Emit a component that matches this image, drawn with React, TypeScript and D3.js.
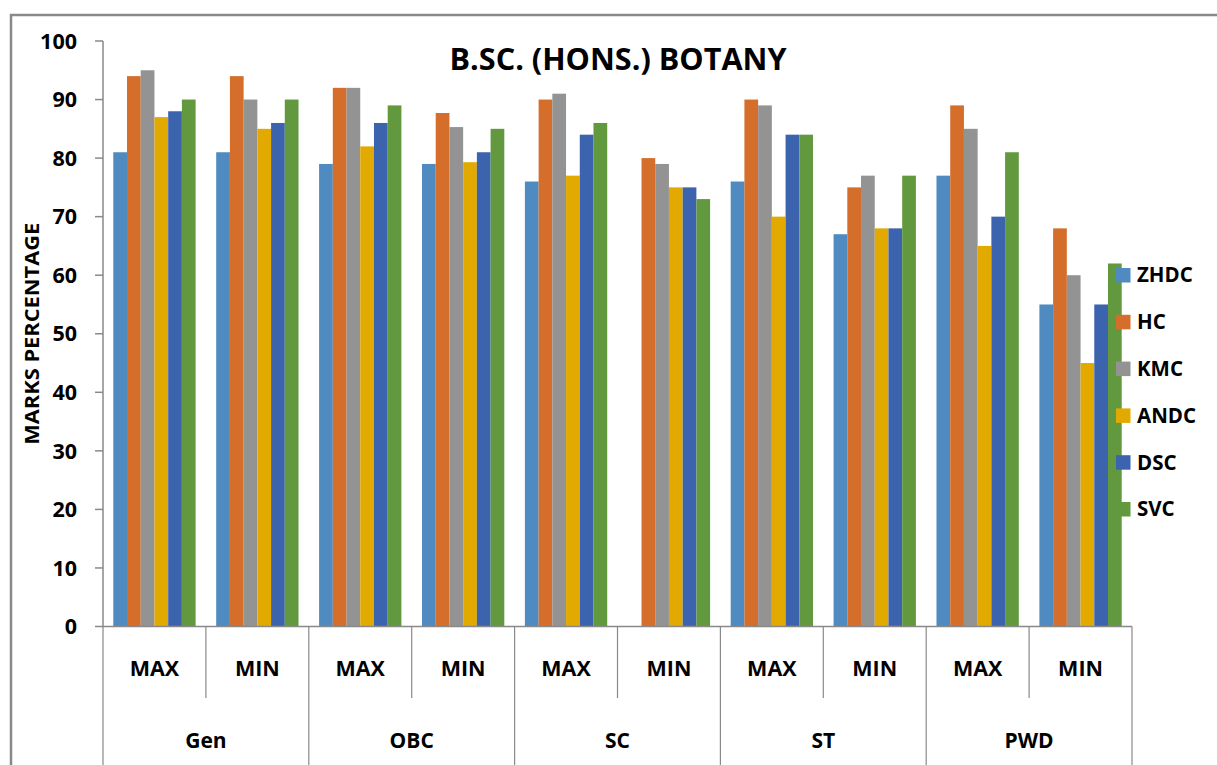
import React from "react";
import * as d3 from "d3";

const groups = ["Gen", "OBC", "SC", "ST", "PWD"];
const levels = ["MAX", "MIN"];
const seriesNames = ["ZHDC", "HC", "KMC", "ANDC", "DSC", "SVC"];
const seriesColors = ["#4F8BC0", "#D46E2A", "#939393", "#E2AA00", "#3C64AE", "#62993E"];
// values per category (Gen MAX, Gen MIN, OBC MAX, ...), per series
const ZHDC = [81, 81, 79, 79, 76, 0, 76, 67, 77, 55];
const HC = [94, 94, 92, 87.7, 90, 80, 90, 75, 89, 68];
const KMC = [95, 90, 92, 85.3, 91, 79, 89, 77, 85, 60];
const ANDC = [87, 85, 82, 79.3, 77, 75, 70, 68, 65, 45];
const DSC = [88, 86, 86, 81, 84, 75, 84, 68, 70, 55];
const SVC = [90, 90, 89, 85, 86, 73, 84, 77, 81, 62];
const seriesValues = [ZHDC, HC, KMC, ANDC, DSC, SVC];
const yTicks = [0, 10, 20, 30, 40, 50, 60, 70, 80, 90, 100];
const title = "B.SC. (HONS.) BOTANY";
const yTitle = "MARKS PERCENTAGE";

const W = 1217, H = 765;
const left = 103, right = 1132, top = 41, bottom = 626.5;
const FONT = "'Open Sans', sans-serif";
const GRAY = "#898989";

export default function App() {
  const cats = groups.flatMap((g) => levels.map((l) => `${g}|${l}`));
  const x = d3.scaleBand().domain(cats).range([left, right]).paddingInner(0.2).paddingOuter(0.1);
  const step = x.step();
  const xs = d3.scaleBand().domain(seriesNames).range([0, x.bandwidth()]).padding(0);
  const y = d3.scaleLinear().domain([0, 100]).range([bottom, top]);

  return (
    <svg width={W} height={H} style={{ position: "absolute", left: 0, top: 0, background: "#fff" }}>
      <rect x={11} y={15} width={1400} height={900} fill="#fff" stroke={GRAY} strokeWidth={2.5} />
      <text x={618} y={70} textAnchor="middle" fontFamily={FONT} fontWeight={700} fontSize={31}
        textLength={337} lengthAdjust="spacingAndGlyphs" fill="#000">{title}</text>
      {/* bars */}
      {seriesNames.map((s, si) => (
        <g key={s} fill={seriesColors[si]}>
          {cats.map((c, ci) => {
            const v = seriesValues[si][ci];
            if (!v) return null;
            return (
              <rect key={c} x={(x(c) as number) + (xs(s) as number)} y={y(v)}
                width={xs.bandwidth()} height={y(0) - y(v)} />
            );
          })}
        </g>
      ))}
      {/* y axis */}
      <line x1={left} x2={left} y1={top} y2={bottom} stroke={GRAY} strokeWidth={1.5} />
      {yTicks.map((t) => (
        <g key={t}>
          <line x1={left - 8} x2={left} y1={y(t)} y2={y(t)} stroke={GRAY} strokeWidth={1.5} />
          <text x={77} y={y(t)} dy="0.36em" textAnchor="end" fontFamily={FONT} fontWeight={700}
            fontSize={21.5} fill="#000">{t}</text>
        </g>
      ))}
      <text transform={`translate(39,${(top + bottom) / 2}) rotate(-90)`} textAnchor="middle"
        fontFamily={FONT} fontWeight={700} fontSize={19} textLength={222} lengthAdjust="spacingAndGlyphs"
        fill="#000">{yTitle}</text>
      {/* x axis */}
      <line x1={left} x2={right} y1={bottom} y2={bottom} stroke={GRAY} strokeWidth={1.5} />
      {cats.map((c, ci) => {
        const x0 = (x(c) as number) - step * 0.1;
        const isGroupStart = ci % 2 === 0;
        return (
          <g key={c}>
            <line x1={x0} x2={x0} y1={bottom} y2={isGroupStart ? H : 698} stroke={GRAY} strokeWidth={1.2} />
            <text x={x0 + step / 2} y={668} dy="0.36em" textAnchor="middle" fontFamily={FONT}
              fontWeight={700} fontSize={21.5} fill="#000">{c.split("|")[1]}</text>
          </g>
        );
      })}
      <line x1={right} x2={right} y1={bottom} y2={H} stroke={GRAY} strokeWidth={1.2} />
      {groups.map((g) => {
        const x0 = (x(`${g}|MAX`) as number) - step * 0.1;
        return (
          <text key={g} x={x0 + step} y={740} dy="0.36em" textAnchor="middle" fontFamily={FONT}
            fontWeight={700} fontSize={21} fill="#000">{g}</text>
        );
      })}
      {/* legend */}
      {seriesNames.map((s, si) => {
        const cy = 275 + si * 46.8;
        return (
          <g key={s}>
            <rect x={1116} y={cy - 7} width={14.5} height={14.5} fill={seriesColors[si]} />
            <text x={1137} y={cy} dy="0.36em" fontFamily={FONT} fontWeight={700} fontSize={20.5}
              fill="#000">{s}</text>
          </g>
        );
      })}
    </svg>
  );
}
